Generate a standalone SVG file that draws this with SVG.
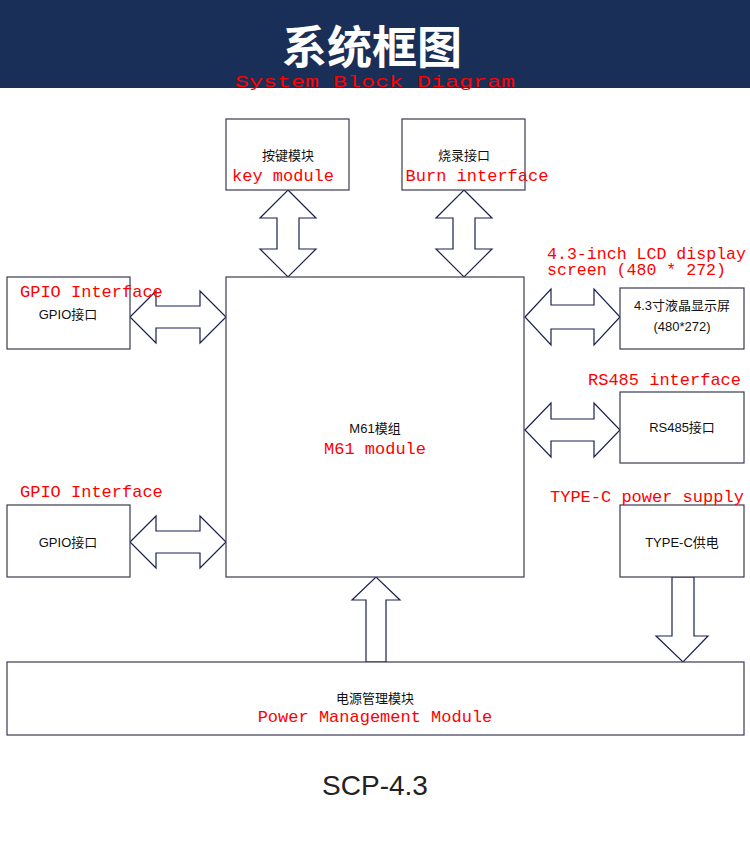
<svg xmlns="http://www.w3.org/2000/svg" width="750" height="841" viewBox="0 0 750 841">
<style>
.b{fill:#fff;stroke:#3a3a50;stroke-width:1.2}
.a{fill:#fff;stroke:#1a2050;stroke-width:1.2}
.t{font-family:"Liberation Sans","Noto Sans CJK SC",sans-serif;font-size:13px;fill:#111;text-anchor:middle}
.r{font-family:"Liberation Mono","Noto Sans CJK SC",monospace;font-size:17px;fill:#f00;text-anchor:middle}
.rl{font-family:"Liberation Mono",monospace;font-size:17px;fill:#f00}
</style>
<rect width="750" height="841" fill="#fff"/>
<rect width="750" height="88" fill="#192f57"/>
<text x="372" y="64" font-family="Noto Sans CJK SC,sans-serif" font-weight="bold" font-size="45" fill="#fff" text-anchor="middle">系统框图</text>
<text x="375" y="87" class="r" font-size="23" textLength="280" lengthAdjust="spacingAndGlyphs">System Block Diagram</text>
<g id="connectors">
<path class="a" d="M288,190 L316,218 L299,218 L299,249 L316,249 L288,277 L260,249 L277,249 L277,218 L260,218 Z"/>
<path class="a" d="M464,190 L492,218 L475,218 L475,249 L492,249 L464,277 L436,249 L453,249 L453,218 L436,218 Z"/>
<path class="a" d="M130,317 L156,291 L156,306 L200,306 L200,291 L226,317 L200,343 L200,328 L156,328 L156,343 Z"/>
<path class="a" d="M130,542 L156,516 L156,531 L200,531 L200,516 L226,542 L200,568 L200,553 L156,553 L156,568 Z"/>
<path class="a" d="M525,317 L551,289 L551,305 L594,305 L594,289 L620,317 L594,345 L594,329 L551,329 L551,345 Z"/>
<path class="a" d="M525,430 L551,403 L551,419 L594,419 L594,403 L620,430 L594,457 L594,441 L551,441 L551,457 Z"/>
<path class="a" d="M366,662 L366,600 L352,600 L376,577 L400,600 L386,600 L386,662 Z"/>
<path class="a" d="M672,577 L694,577 L694,636 L708,636 L683,662 L656,636 L672,636 Z"/>
</g>
<g id="key"><rect class="b" x="226" y="119" width="123" height="71"/><text class="t" x="288" y="160">按键模块</text><text class="r" x="283" y="181">key module</text></g>
<g id="burn"><rect class="b" x="402" y="119" width="123" height="71"/><text class="t" x="464" y="160">烧录接口</text><text class="r" x="477" y="181">Burn interface</text></g>
<g id="main"><rect class="b" x="226" y="277" width="298" height="300"/><text class="t" x="375" y="433">M61模组</text><text class="r" x="375" y="454">M61 module</text></g>
<g id="gpio1"><rect class="b" x="7" y="277" width="123" height="72"/><text class="t" x="68" y="319">GPIO接口</text><text class="rl" x="20" y="297">GPIO Interface</text></g>
<g id="gpio2"><rect class="b" x="7" y="505" width="123" height="72"/><text class="t" x="68" y="547">GPIO接口</text><text class="rl" x="20" y="497">GPIO Interface</text></g>
<g id="lcd"><rect class="b" x="620" y="288" width="124" height="61"/><text class="t" x="682" y="310">4.3寸液晶显示屏</text><text class="t" x="682" y="331">(480*272)</text><text class="rl" x="547" y="259" font-size="16" textLength="199" lengthAdjust="spacingAndGlyphs">4.3-inch LCD display</text><text class="rl" x="547" y="275" font-size="16" textLength="179" lengthAdjust="spacingAndGlyphs">screen (480 * 272)</text></g>
<g id="rs485"><rect class="b" x="620" y="392" width="124" height="71"/><text class="t" x="682" y="432">RS485接口</text><text class="rl" x="588" y="385">RS485 interface</text></g>
<g id="typec"><rect class="b" x="620" y="505" width="124" height="72"/><text class="t" x="682" y="547">TYPE-C供电</text><text class="rl" x="550" y="502">TYPE-C power supply</text></g>
<g id="power"><rect class="b" x="7" y="662" width="737" height="73"/><text class="t" x="375" y="703">电源管理模块</text><text class="r" x="375" y="722">Power Management Module</text></g>
<text x="375" y="795" font-family="Liberation Sans,sans-serif" font-size="28" fill="#222" text-anchor="middle">SCP-4.3</text>
</svg>
